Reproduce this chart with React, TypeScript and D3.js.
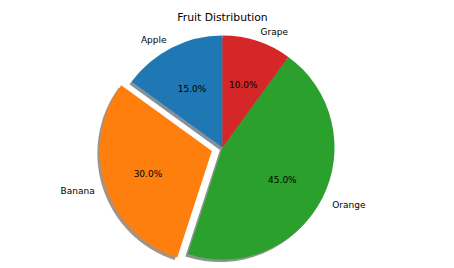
import React from "react";
import * as d3 from "d3";

const categories = ["Apple", "Banana", "Orange", "Grape"];
const values = [15, 30, 45, 10];
const explode = [0, 0.1, 0, 0];
const colors = ["#1f77b4", "#ff7f0e", "#2ca02c", "#d62728"];
const title = "Fruit Distribution";

const W = 454;
const H = 268;
const cx = 222.5;
const cy = 147.5;
const R = 112;
const shadowDx = -2.5;
const shadowDy = 2.5;
const textDy = 1.8;

function shade(c: string) {
  const col = d3.rgb(c);
  return d3.rgb(col.r * 0.3, col.g * 0.3, col.b * 0.3).formatHex();
}

export default function App() {
  const pie = d3
    .pie<number>()
    .sort(null)
    .startAngle(0)
    .endAngle(-2 * Math.PI)
    .value((d) => d);
  const arcs = pie(values);
  const arc = d3.arc<any>().innerRadius(0).outerRadius(R);
  const total = d3.sum(values);

  const items = arcs.map((a, i) => {
    const mid = (a.startAngle + a.endAngle) / 2;
    const ux = Math.sin(mid);
    const uy = -Math.cos(mid);
    const ox = explode[i] * R * ux;
    const oy = explode[i] * R * uy;
    return { a, i, ux, uy, ox, oy };
  });

  return (
    <svg width={W} height={H} style={{ display: "block", position: "absolute", left: 0, top: 0 }}>
      <rect width={W} height={H} fill="#ffffff" />
      <text
        x={cx}
        y={17}
        textAnchor="middle"
        dominantBaseline="central"
        fontFamily="DejaVu Sans"
        fontSize={10.8}
        fill="#000"
      >
        {title}
      </text>
      <g transform={`translate(${cx},${cy})`}>
        {items.map(({ a, i, ox, oy }) => (
          <path
            key={"s" + i}
            d={arc(a) || ""}
            transform={`translate(${ox + shadowDx},${oy + shadowDy})`}
            fill={shade(colors[i])}
            fillOpacity={0.5}
          />
        ))}
        {items.map(({ a, i, ox, oy }) => (
          <path
            key={"w" + i}
            d={arc(a) || ""}
            transform={`translate(${ox},${oy})`}
            fill={colors[i]}
          />
        ))}
        {items.map(({ i, ux, uy, ox, oy }) => (
          <text
            key={"p" + i}
            x={ox + 0.6 * R * ux}
            y={oy + 0.6 * R * uy + textDy}
            textAnchor="middle"
            dominantBaseline="central"
            fontFamily="DejaVu Sans"
            fontSize={9}
            fill="#000"
          >
            {((values[i] / total) * 100).toFixed(1) + "%"}
          </text>
        ))}
        {items.map(({ i, ux, uy, ox, oy }) => {
          const x = ox + 1.1 * R * ux;
          return (
            <text
              key={"l" + i}
              x={x}
              y={oy + 1.1 * R * uy + textDy}
              textAnchor={x < 0 ? "end" : "start"}
              dominantBaseline="central"
              fontFamily="DejaVu Sans"
              fontSize={9}
              fill="#000"
            >
              {categories[i]}
            </text>
          );
        })}
      </g>
    </svg>
  );
}
